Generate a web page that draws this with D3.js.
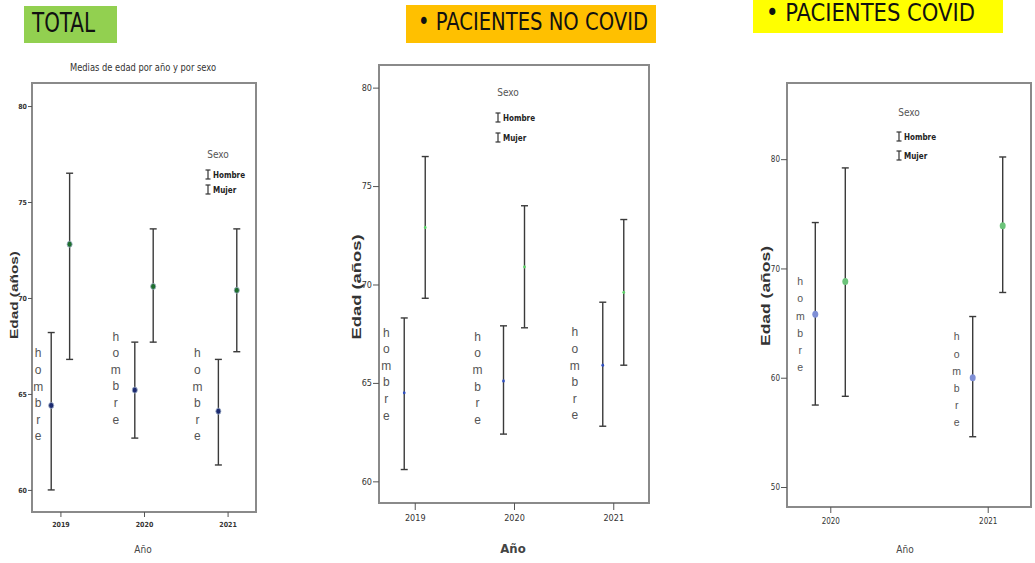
<!DOCTYPE html>
<html>
<head>
<meta charset="utf-8">
<script src="https://cdn.jsdelivr.net/npm/d3@7"></script>
<style>
  body { margin: 0; background: #fff; }
  svg { display: block; }
</style>
</head>
<body>
<svg id="chart" width="1035" height="563"></svg>
<script>
// ---- data ----
const sexes = ['Hombre', 'Mujer'];

const totalYears = ['2019', '2020', '2021'];
const totalHombre = [64.4, 65.2, 64.1];
const totalHombreLow = [60.0, 62.7, 61.3];
const totalHombreHigh = [68.2, 67.7, 66.8];
const totalMujer = [72.8, 70.6, 70.4];
const totalMujerLow = [66.8, 67.7, 67.2];
const totalMujerHigh = [76.5, 73.6, 73.6];
const totalTicks = [60, 65, 70, 75, 80];

const noCovidYears = ['2019', '2020', '2021'];
const noCovidHombre = [64.5, 65.1, 65.9];
const noCovidHombreLow = [60.6, 62.4, 62.8];
const noCovidHombreHigh = [68.3, 67.9, 69.1];
const noCovidMujer = [72.9, 70.9, 69.6];
const noCovidMujerLow = [69.3, 67.8, 65.9];
const noCovidMujerHigh = [76.5, 74.0, 73.3];
const noCovidTicks = [60, 65, 70, 75, 80];

const covidYears = ['2020', '2021'];
const covidHombre = [65.8, 60.0];
const covidHombreLow = [57.5, 54.6];
const covidHombreHigh = [74.2, 65.6];
const covidMujer = [68.8, 73.9];
const covidMujerLow = [58.3, 67.8];
const covidMujerHigh = [79.2, 80.2];
const covidTicks = [50, 60, 70, 80];

const NARROW = "'Liberation Sans Narrow','DejaVu Sans Condensed','Liberation Sans',sans-serif";
const SANS = "'Liberation Sans','DejaVu Sans',sans-serif";

const svg = d3.select('#chart');

// ---- header boxes ----
const headers = [
    { text: 'TOTAL', x: 24, y: 6, w: 93, h: 37, fill: '#92d050', tx: 32, ty: 32, tl: 63, fs: 26 },
    { text: '\u2022  PACIENTES NO COVID', x: 406, y: 5, w: 250, h: 38, fill: '#ffc000', tx: 418, ty: 30, tl: 230, fs: 24 },
    { text: '\u2022  PACIENTES COVID', x: 753, y: -2, w: 250, h: 35, fill: '#ffff00', tx: 766, ty: 21, tl: 209, fs: 24 }
];
headers.forEach(h => {
    svg.append('rect')
        .attr('x', h.x).attr('y', h.y)
        .attr('width', h.w).attr('height', h.h)
        .attr('fill', h.fill);
    svg.append('text')
        .attr('x', h.tx).attr('y', h.ty)
        .attr('textLength', h.tl)
        .attr('lengthAdjust', 'spacingAndGlyphs')
        .style('font-family', NARROW)
        .style('font-size', h.fs + 'px')
        .style('fill', '#111')
        .text(h.text);
});

// build rows for one panel
function makeRows(years, hm, hl, hh, mm, ml, mh) {
    const rows = [];
    years.forEach((yr, i) => {
        rows.push({ year: yr, sex: 'Hombre', i: i, mean: hm[i], low: hl[i], high: hh[i] });
        rows.push({ year: yr, sex: 'Mujer', i: i, mean: mm[i], low: ml[i], high: mh[i] });
    });
    return rows;
}

const panels = [
    {
        rows: makeRows(totalYears, totalHombre, totalHombreLow, totalHombreHigh, totalMujer, totalMujerLow, totalMujerHigh),
        years: totalYears, ticks: totalTicks,
        frame: { left: 32, right: 256, top: 83, bottom: 512 },
        yDomain: [58.85, 81.2], xPad: 0.34, dodge: 9.2,
        colors: { Hombre: '#1c2a70', Mujer: '#1d6e2d' }, r: 3, ring: '#9fb0c8',
        tickFs: 7, tickWeight: 'bold', yTickSize: 4, xTickSize: 5,
        yLabel: { x: 14, y: 295, fs: 11, len: 88 },
        xLabel: { x: 143, y: 553, fs: 10, weight: 'normal' },
        title: { text: 'Medias de edad por año y por sexo', x: 143, y: 71, len: 146 },
        hombreLabel: { dx: [-13, -19, -21], at: [64.95, 65.83, 64.95], fs: 12, gap: 16.6 },
        legend: { x: 208, y: 158, step: 15 }
    },
    {
        rows: makeRows(noCovidYears, noCovidHombre, noCovidHombreLow, noCovidHombreHigh, noCovidMujer, noCovidMujerLow, noCovidMujerHigh),
        years: noCovidYears, ticks: noCovidTicks,
        frame: { left: 379, right: 649, top: 65, bottom: 503 },
        yDomain: [58.9, 81.15], xPad: 0.36, dodge: 10.5,
        colors: { Hombre: '#2f4fc0', Mujer: '#5fd36a' }, r: 1.6, ring: null,
        tickFs: 9, tickWeight: 'normal', yTickSize: 6, xTickSize: 7,
        yLabel: { x: 357, y: 287, fs: 12, len: 105 },
        xLabel: { x: 513, y: 553, fs: 13, weight: 'bold' },
        title: null,
        hombreLabel: { dx: [-18, -26, -28], at: [65.45, 65.23, 65.46], fs: 12, gap: 16.6 },
        legend: { x: 498, y: 96, step: 20 }
    },
    {
        rows: makeRows(covidYears, covidHombre, covidHombreLow, covidHombreHigh, covidMujer, covidMujerLow, covidMujerHigh),
        years: covidYears, ticks: covidTicks,
        frame: { left: 787, right: 1031, top: 83, bottom: 507 },
        yDomain: [48.17, 86.97], xPad: 0.275, dodge: 15,
        colors: { Hombre: '#7f8fd6', Mujer: '#6cc47a' }, r: 3.5, ring: null,
        tickFs: 8, tickWeight: 'normal', yTickSize: 6, xTickSize: 6,
        yLabel: { x: 766, y: 296, fs: 12, len: 100 },
        xLabel: { x: 905, y: 553, fs: 10, weight: 'normal' },
        title: null,
        hombreLabel: { dx: [-15, -16], at: [64.9, 59.85], fs: 10.5, gap: 17.2 },
        legend: { x: 899, y: 116, step: 19 }
    }
];

function drawPanel(p) {
    const f = p.frame;
    const y = d3.scaleLinear().domain(p.yDomain).range([f.bottom, f.top]);
    const x = d3.scalePoint().domain(p.years).range([f.left, f.right]).padding(p.xPad);
    const px = d => x(d.year) + (d.sex === 'Hombre' ? -p.dodge : p.dodge);

    const g = svg.append('g');

    // frame
    g.append('rect')
        .attr('x', f.left).attr('y', f.top)
        .attr('width', f.right - f.left).attr('height', f.bottom - f.top)
        .attr('fill', 'none')
        .attr('stroke', '#8a8a8a')
        .attr('stroke-width', 2);

    // y axis
    const ya = g.append('g')
        .attr('transform', `translate(${f.left},0)`)
        .call(d3.axisLeft(y).tickValues(p.ticks).tickSize(p.yTickSize).tickPadding(1));
    ya.select('.domain').remove();
    ya.selectAll('line').attr('stroke', '#555');
    ya.selectAll('text')
        .style('font-family', NARROW)
        .style('font-size', p.tickFs + 'px')
        .style('font-weight', p.tickWeight)
        .style('fill', '#333');

    // x axis
    const xa = g.append('g')
        .attr('transform', `translate(0,${f.bottom})`)
        .call(d3.axisBottom(x).tickSize(p.xTickSize).tickPadding(5));
    xa.select('.domain').remove();
    xa.selectAll('line').attr('stroke', '#555');
    xa.selectAll('text')
        .style('font-family', NARROW)
        .style('font-size', p.tickFs + 'px')
        .style('font-weight', p.tickWeight)
        .style('fill', '#333');

    // error bars
    const bars = g.selectAll('.bar')
        .data(p.rows)
        .enter()
        .append('g')
        .attr('class', 'bar')
        .attr('stroke', '#3a3a3a')
        .attr('stroke-width', 1.4);
    bars.append('line')
        .attr('x1', px).attr('x2', px)
        .attr('y1', d => y(d.low)).attr('y2', d => y(d.high));
    bars.append('line')
        .attr('x1', d => px(d) - 3.5).attr('x2', d => px(d) + 3.5)
        .attr('y1', d => y(d.high)).attr('y2', d => y(d.high));
    bars.append('line')
        .attr('x1', d => px(d) - 3.5).attr('x2', d => px(d) + 3.5)
        .attr('y1', d => y(d.low)).attr('y2', d => y(d.low));

    // means
    g.selectAll('.pt')
        .data(p.rows)
        .enter()
        .append('ellipse')
        .attr('cx', px)
        .attr('cy', d => y(d.mean))
        .attr('rx', p.r * 0.85)
        .attr('ry', p.r)
        .attr('fill', d => p.colors[d.sex])
        .attr('stroke', p.ring || 'none')
        .attr('stroke-width', 0.8);

    // vertical "hombre" labels
    const hl = p.hombreLabel;
    p.rows.filter(d => d.sex === 'Hombre').forEach(d => {
        const letters = 'hombre'.split('');
        const cx = px(d) + hl.dx[d.i];
        const cy = y(hl.at[d.i]);
        g.selectAll(null)
            .data(letters)
            .enter()
            .append('text')
            .attr('x', cx)
            .attr('y', (c, k) => cy + (k - 2.5) * hl.gap)
            .attr('text-anchor', 'middle')
            .attr('dominant-baseline', 'central')
            .style('font-family', SANS)
            .style('font-size', hl.fs + 'px')
            .style('fill', '#555')
            .text(c => c);
    });

    // legend
    const lg = g.append('g').attr('transform', `translate(${p.legend.x},${p.legend.y})`);
    lg.append('text')
        .attr('x', 10).attr('y', 0)
        .attr('text-anchor', 'middle')
        .style('font-family', NARROW)
        .style('font-size', '10px')
        .style('fill', '#555')
        .text('Sexo');
    sexes.forEach((s, k) => {
        const yy = (k + 1) * p.legend.step + 6;
        const it = lg.append('g').attr('transform', `translate(0,${yy})`);
        it.append('line').attr('x1', 0).attr('x2', 0).attr('y1', -9).attr('y2', 0)
            .attr('stroke', '#333').attr('stroke-width', 1.2);
        it.append('line').attr('x1', -2.5).attr('x2', 2.5).attr('y1', -9).attr('y2', -9)
            .attr('stroke', '#333').attr('stroke-width', 1.2);
        it.append('line').attr('x1', -2.5).attr('x2', 2.5).attr('y1', 0).attr('y2', 0)
            .attr('stroke', '#333').attr('stroke-width', 1.2);
        it.append('text')
            .attr('x', 5).attr('y', -1)
            .style('font-family', NARROW)
            .style('font-size', '8px')
            .style('font-weight', 'bold')
            .style('fill', '#222')
            .text(s);
    });

    // axis titles
    g.append('text')
        .attr('transform', `translate(${p.yLabel.x},${p.yLabel.y}) rotate(-90)`)
        .attr('text-anchor', 'middle')
        .attr('dominant-baseline', 'central')
        .attr('textLength', p.yLabel.len)
        .attr('lengthAdjust', 'spacingAndGlyphs')
        .style('font-family', SANS)
        .style('font-size', p.yLabel.fs + 'px')
        .style('font-weight', 'bold')
        .style('fill', '#333')
        .text('Edad (años)');
    g.append('text')
        .attr('x', p.xLabel.x).attr('y', p.xLabel.y)
        .attr('text-anchor', 'middle')
        .style('font-family', NARROW)
        .style('font-size', p.xLabel.fs + 'px')
        .style('font-weight', p.xLabel.weight)
        .style('fill', '#444')
        .text('Año');

    if (p.title) {
        g.append('text')
            .attr('x', p.title.x).attr('y', p.title.y)
            .attr('text-anchor', 'middle')
            .attr('textLength', p.title.len)
            .attr('lengthAdjust', 'spacingAndGlyphs')
            .style('font-family', NARROW)
            .style('font-size', '10px')
            .style('fill', '#333')
            .text(p.title.text);
    }
}

panels.forEach(drawPanel);
</script>
</body>
</html>
